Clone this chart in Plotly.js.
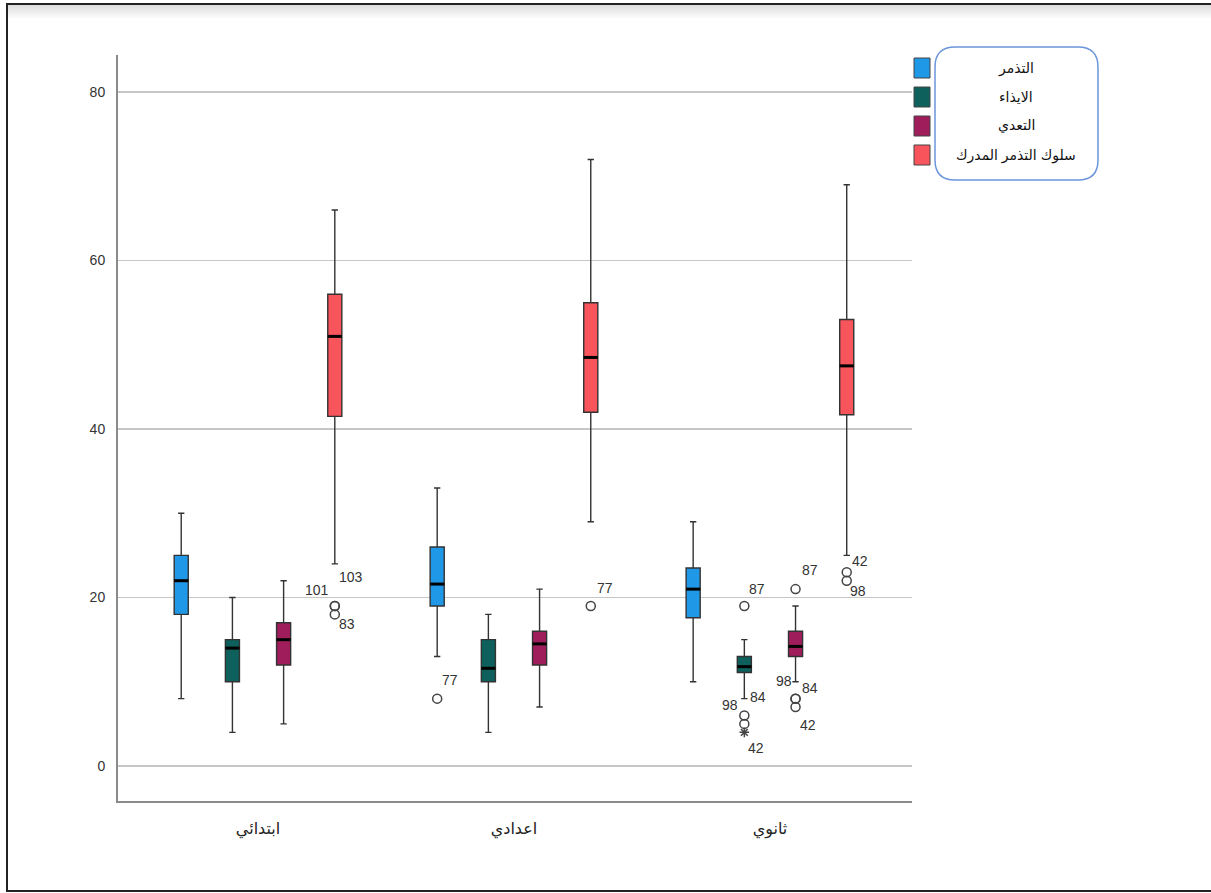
<!DOCTYPE html>
<html><head><meta charset="utf-8">
<script src="https://cdn.plot.ly/plotly-3.0.1.min.js"></script>
<style>
html,body{margin:0;padding:0;background:#fff;}
#shade{position:absolute;left:8px;top:5px;width:1210px;height:14px;background:linear-gradient(#dcdcdc,#ffffff);}
#chart{position:absolute;left:0;top:0;width:1211px;height:893px;}
#frame{position:absolute;left:6px;top:3px;width:1230px;height:885px;border-left:2.5px solid #222;border-top:2.5px solid #222;border-bottom:2.5px solid #222;pointer-events:none;}
</style>
</head><body>
<div id="shade"></div>
<div id="chart"></div>
<div id="frame"></div>
<script>
// ---- data ----
const categories = ['ابتدائي', 'اعدادي', 'ثانوي'];
const seriesNames = ['التذمر', 'الايذاء', 'التعدي', 'سلوك التذمر المدرك'];
// per category: [lower whisker, Q1, median, Q3, upper whisker]
const tadhammur = [[8, 18, 22, 25, 30], [13, 19, 21.6, 26, 33], [10, 17.6, 21, 23.5, 29]];
const idhaa     = [[4, 10, 14, 15, 20], [4, 10, 11.6, 15, 18], [8, 11.1, 11.8, 13, 15]];
const taaddi    = [[5, 12, 15, 17, 22], [7, 12, 14.5, 16, 21], [10, 13, 14.2, 16, 19]];
const suluk     = [[24, 41.5, 51, 56, 66], [29, 42, 48.5, 55, 72], [25, 41.7, 47.5, 53, 69]];
// outliers
const outlierCategory = [0, 0, 0, 1, 1, 2, 2, 2, 2, 2, 2, 2, 2, 2, 2];
const outlierSeries   = [3, 3, 3, 0, 3, 1, 1, 1, 1, 2, 2, 2, 2, 3, 3];
const outlierValue    = [19, 19, 18, 8, 19, 19, 6, 5, 4, 21, 8, 8, 7, 23, 22];
const outlierCase     = ['101', '103', '83', '77', '77', '87', '98', '84', '42', '87', '98', '84', '42', '42', '98'];
const outlierExtreme  = [0, 0, 0, 0, 0, 0, 0, 0, 1, 0, 0, 0, 0, 0, 0];
const yTicks = [0, 20, 40, 60, 80];

// ---- style ----
const colors = ['#1f98e8', '#0d605c', '#a01d5c', '#f7545b'];
const seriesData = [tadhammur, idhaa, taaddi, suluk];
const SLOT = 0.2, BOXW = 0.055;
const labelDx = [-18, 16, 12, 13, 14, 13, -14, 14, 12, 14, -12, 14, 12, 13, 11];
const labelDy = [-16, -29, 10, -19, -18, -17, -10, -27, 16, -19, -18, -11, 18, -11, 10];
const FONT = 'Arial, "Liberation Sans", "DejaVu Sans", sans-serif';

const pos = (ci, si) => ci + (si - (seriesNames.length - 1) / 2) * SLOT;

const traces = [];
seriesData.forEach((arr, si) => {
  const xs = categories.map((c, ci) => pos(ci, si));
  traces.push({
    type: 'box', x: xs,
    lowerfence: arr.map(r => r[0]), q1: arr.map(r => r[1]), median: arr.map(r => r[2]),
    q3: arr.map(r => r[3]), upperfence: arr.map(r => r[4]),
    width: BOXW, whiskerwidth: 0.45, boxpoints: false,
    fillcolor: colors[si], line: {color: '#333', width: 1.4},
    name: seriesNames[si], showlegend: false, hoverinfo: 'skip'
  });
  const mx = [], my = [];
  arr.forEach((r, ci) => { mx.push(xs[ci] - BOXW / 2, xs[ci] + BOXW / 2, null); my.push(r[2], r[2], null); });
  traces.push({type: 'scatter', mode: 'lines', x: mx, y: my, line: {color: '#000', width: 3},
    showlegend: false, hoverinfo: 'skip'});
});
const ox = outlierValue.map((v, i) => pos(outlierCategory[i], outlierSeries[i]));
traces.push({type: 'scatter', mode: 'markers',
  x: ox.filter((x, i) => !outlierExtreme[i]), y: outlierValue.filter((v, i) => !outlierExtreme[i]),
  marker: {symbol: 'circle-open', size: 9, color: '#444', line: {width: 1.5, color: '#444'}},
  showlegend: false, hoverinfo: 'skip'});
traces.push({type: 'scatter', mode: 'markers',
  x: ox.filter((x, i) => outlierExtreme[i]), y: outlierValue.filter((v, i) => outlierExtreme[i]),
  marker: {symbol: 'asterisk-open', size: 8, color: '#444', line: {width: 1.5, color: '#444'}},
  showlegend: false, hoverinfo: 'skip'});

const annotations = outlierValue.map((v, i) => ({
  x: ox[i], y: v, xref: 'x', yref: 'y', text: outlierCase[i], showarrow: false,
  xshift: labelDx[i], yshift: -labelDy[i], font: {family: FONT, size: 14, color: '#333'}
}));

// legend (drawn in paper coords from plot-area pixel geometry)
const L = 118, R = 912, T = 55, B = 801;
const px = x => (x - L) / (R - L), py = y => (B - y) / (B - T);
const shapes = [];
const bx0 = 935, bx1 = 1098, by0 = 47, by1 = 180, rr = 20;
shapes.push({type: 'path', xref: 'paper', yref: 'paper',
  path: `M ${px(bx0 + rr)} ${py(by0)} L ${px(bx1 - rr)} ${py(by0)} Q ${px(bx1)} ${py(by0)} ${px(bx1)} ${py(by0 + rr)} ` +
        `L ${px(bx1)} ${py(by1 - rr)} Q ${px(bx1)} ${py(by1)} ${px(bx1 - rr)} ${py(by1)} ` +
        `L ${px(bx0 + rr)} ${py(by1)} Q ${px(bx0)} ${py(by1)} ${px(bx0)} ${py(by1 - rr)} ` +
        `L ${px(bx0)} ${py(by0 + rr)} Q ${px(bx0)} ${py(by0)} ${px(bx0 + rr)} ${py(by0)} Z`,
  line: {color: '#6b95dc', width: 1.5}, fillcolor: 'rgba(0,0,0,0)'});
seriesNames.forEach((n, si) => {
  const cy = 68 + si * 29;
  shapes.push({type: 'rect', xref: 'paper', yref: 'paper', x0: px(914), x1: px(930), y0: py(cy - 10), y1: py(cy + 10),
    fillcolor: colors[si], line: {color: '#444', width: 1}});
  annotations.push({xref: 'paper', yref: 'paper', x: px(1016), y: py(cy), text: n, showarrow: false,
    xanchor: 'center', yanchor: 'middle', font: {family: FONT, size: 14, color: '#111'}});
});

const layout = {
  width: 1211, height: 893,
  margin: {l: L, r: 1211 - R, t: T, b: 893 - B, pad: 0},
  paper_bgcolor: 'rgba(0,0,0,0)', plot_bgcolor: 'rgba(0,0,0,0)',
  showlegend: false,
  xaxis: {range: [-0.547, 2.555], tickvals: categories.map((c, i) => i), ticktext: categories,
    showgrid: false, zeroline: false, showline: true, linecolor: '#8a8a8a', linewidth: 2,
    ticks: '', ticklabelstandoff: 12, tickfont: {family: FONT, size: 16, color: '#222'}},
  yaxis: {range: [-4.15, 84.4], tickvals: yTicks, showgrid: true, gridcolor: '#c6c6c6', gridwidth: 1.8,
    zeroline: false, showline: true, linecolor: '#8a8a8a', linewidth: 2,
    ticks: '', ticklabelstandoff: 8, tickfont: {family: FONT, size: 14, color: '#333'}},
  shapes: shapes, annotations: annotations
};
Plotly.newPlot('chart', traces, layout, {staticPlot: true, displayModeBar: false});
</script>
</body></html>
